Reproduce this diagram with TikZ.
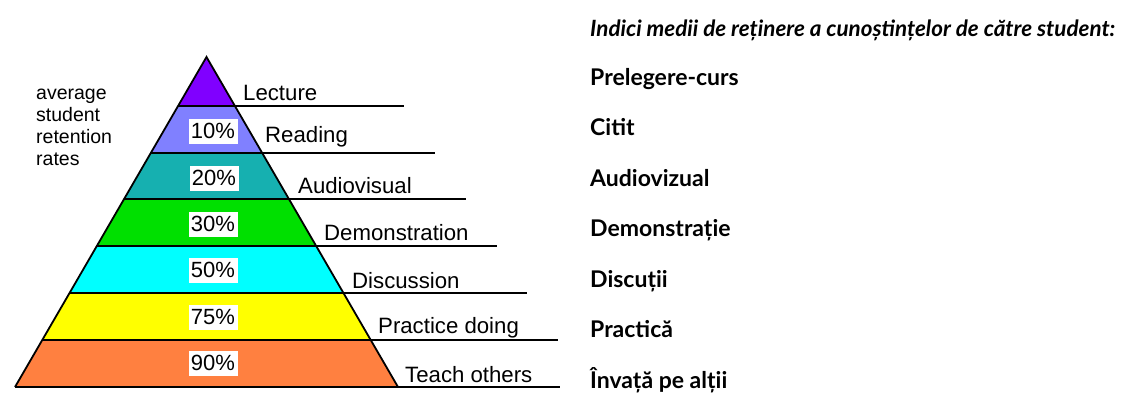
\documentclass[tikz,border=0pt]{standalone}
\usepackage{fontspec}
\setmainfont{Liberation Sans}
\newfontfamily\romfont{Lato}
\usetikzlibrary{positioning,calc}

\definecolor{lecturefill}{HTML}{8000FF}
\definecolor{readingfill}{HTML}{8080FF}
\definecolor{audiofill}{HTML}{16B0B0}
\definecolor{demofill}{HTML}{00E000}
\definecolor{discfill}{HTML}{00FFFF}
\definecolor{practicefill}{HTML}{FFFF00}
\definecolor{teachfill}{HTML}{FF8040}

\begin{document}
\begin{tikzpicture}[
    x=1pt, y=-1pt,
    rule/.style={draw=black, line width=1.8pt},
    pct/.style={fill=white, inner sep=0pt, minimum width=49pt, minimum height=25pt, font=\fontsize{22}{22}\selectfont},
    activity/.style={anchor=base west, inner sep=0pt, font=\fontsize{22.2}{22}\selectfont},
    roman/.style={anchor=base west, inner sep=0pt, font=\romfont\bfseries\fontsize{23}{23}\selectfont}
]
    \useasboundingbox (0,0) rectangle (1123,394);

    % Pyramid corners
    \coordinate (apex) at (206.5,57);
    \coordinate (bl) at (15,387);
    \coordinate (br) at (398,387);

    % Level points on both sides
    \coordinate (l1) at ($(apex)!0.1485!(bl)$);  \coordinate (r1) at ($(apex)!0.1485!(br)$);
    \coordinate (l2) at ($(apex)!0.2909!(bl)$);  \coordinate (r2) at ($(apex)!0.2909!(br)$);
    \coordinate (l3) at ($(apex)!0.4303!(bl)$);  \coordinate (r3) at ($(apex)!0.4303!(br)$);
    \coordinate (l4) at ($(apex)!0.5727!(bl)$);  \coordinate (r4) at ($(apex)!0.5727!(br)$);
    \coordinate (l5) at ($(apex)!0.7152!(bl)$);  \coordinate (r5) at ($(apex)!0.7152!(br)$);
    \coordinate (l6) at ($(apex)!0.8576!(bl)$);  \coordinate (r6) at ($(apex)!0.8576!(br)$);

    % Bands
    \fill[lecturefill] (apex) -- (l1) -- (r1) -- cycle;
    \fill[readingfill] (l1) -- (l2) -- (r2) -- (r1) -- cycle;
    \fill[audiofill] (l2) -- (l3) -- (r3) -- (r2) -- cycle;
    \fill[demofill] (l3) -- (l4) -- (r4) -- (r3) -- cycle;
    \fill[discfill] (l4) -- (l5) -- (r5) -- (r4) -- cycle;
    \fill[practicefill] (l5) -- (l6) -- (r6) -- (r5) -- cycle;
    \fill[teachfill] (l6) -- (bl) -- (br) -- (r6) -- cycle;

    % Line ends on the right
    \coordinate (e1) at (404,0 |- l1);
    \coordinate (e2) at (435,0 |- l2);
    \coordinate (e3) at (466,0 |- l3);
    \coordinate (e4) at (497,0 |- l4);
    \coordinate (e5) at (527,0 |- l5);
    \coordinate (e6) at (558,0 |- l6);
    \coordinate (e7) at (560,0 |- bl);

    % Outline and rules
    \draw[rule, line join=miter] (bl) -- (apex) -- (br);
    \draw[rule] (l1) -- (e1);
    \draw[rule] (l2) -- (e2);
    \draw[rule] (l3) -- (e3);
    \draw[rule] (l4) -- (e4);
    \draw[rule] (l5) -- (e5);
    \draw[rule] (l6) -- (e6);
    \draw[rule] (bl) -- (e7);

    % Side note
    \node[anchor=base west, inner sep=0pt, align=left, font=\fontsize{19.5}{22}\selectfont] (note) at (36,165) {average\\student\\retention\\rates};

    % Percentages
    \node[pct] (p10) at (213,131) {10\%};
    \node[pct] (p20) at (214,178) {20\%};
    \node[pct] (p30) at (213,224) {30\%};
    \node[pct] (p50) at (213,270) {50\%};
    \node[pct] (p75) at (213,317) {75\%};
    \node[pct] (p90) at (213,363) {90\%};

    % Activities
    \node[activity] (lecture) at (243,100) {Lecture};
    \node[activity] (reading) at (265,142) {Reading};
    \node[activity] (audio) at (298,193) {Audiovisual};
    \node[activity] (demo) at (324,240) {Demonstration};
    \node[activity] (disc) at (352,288) {Discussion};
    \node[activity] (practice) at (378,333) {Practice doing};
    \node[activity] (teach) at (405,382) {Teach others};

    % Romanian column
    \node[roman, font=\romfont\bfseries\itshape\fontsize{22.4}{22}\selectfont] (title) at (590,36) {Indici medii de reținere a cunoștințelor de către student:};
    \node[roman] (ro1) at (590,85) {Prelegere-curs};
    \node[roman] (ro2) at (590,135) {Citit};
    \node[roman] (ro3) at (590,186) {Audiovizual};
    \node[roman] (ro4) at (590,236) {Demonstrație};
    \node[roman] (ro5) at (590,287) {Discuții};
    \node[roman] (ro6) at (590,337) {Practică};
    \node[roman] (ro7) at (590,388) {Învață pe alții};
\end{tikzpicture}
\end{document}
